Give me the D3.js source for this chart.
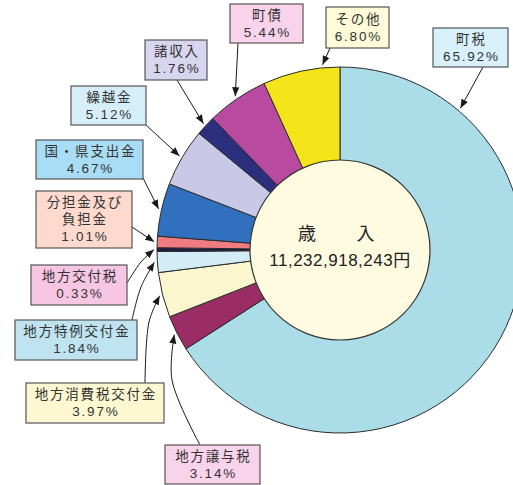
<!DOCTYPE html>
<html>
<head>
<meta charset="utf-8">
<script src="https://cdn.jsdelivr.net/npm/d3@7"></script>
<style>
  html, body { margin: 0; padding: 0; background: #fff; }
  svg { display: block; font-family: "Liberation Sans", "Noto Sans CJK JP", sans-serif; }
</style>
</head>
<body>
<div id="chart-container"></div>
<script>
// revenue breakdown (歳入), percent of total
const categories = ["町税", "地方譲与税", "地方消費税交付金", "地方特例交付金", "地方交付税",
  "分担金及び負担金", "国・県支出金", "繰越金", "諸収入", "町債", "その他"];
const values = [65.92, 3.14, 3.97, 1.84, 0.33, 1.01, 4.67, 5.12, 1.76, 5.44, 6.80];
// label lines as printed in the boxes
const labelLines = [["町税"], ["地方譲与税"], ["地方消費税交付金"], ["地方特例交付金"], ["地方交付税"],
  ["分担金及び", "負担金"], ["国・県支出金"], ["繰越金"], ["諸収入"], ["町債"], ["その他"]];
const centerTitle = "歳　　入";
const centerTotal = "11,232,918,243円";

const sliceColors = ["#abdde9", "#9a2d65", "#faf6cd", "#d3edf6", "#1d1d45",
  "#ee7c80", "#3070bf", "#c9c9e7", "#2b2f7d", "#b84aa0", "#f4e41a"];
const boxColors = ["#d8f0fa", "#f9d3ea", "#fdf8d2", "#bfe3f1", "#f7c6e2",
  "#fddacd", "#a8ddf5", "#d6eefa", "#d8d6ee", "#f9d3ea", "#fdfbd8"];

// label box placement: [x, y, w, h], arrow start, optional bend, where along the slice the arrow points
const labelLayout = [
  { box: [433, 28, 75, 39], from: [483, 67], tip: 0.17 },
  { box: [165, 445, 95, 39], from: [200, 445], via: [172, 380] },
  { box: [26, 383, 138, 40], from: [145, 383], via: [149, 322] },
  { box: [15, 320, 122, 40], from: [132, 320], via: [141, 287] },
  { box: [31, 265, 96, 40], from: [127, 283], via: [141, 262] },
  { box: [36, 191, 96, 57], from: [132, 227] },
  { box: [36, 140, 107, 39], from: [143, 178] },
  { box: [71, 86, 75, 39], from: [146, 125] },
  { box: [145, 40, 62, 40], from: [177, 80] },
  { box: [230, 4, 73, 39], from: [238, 43] },
  { box: [326, 7, 63, 41], from: [330, 48], tip: 0.78 }
];

const width = 513, height = 485;
const cx = 340, cy = 250, outerR = 183, innerR = 90;

const svg = d3.select("#chart-container")
  .append("svg")
    .attr("width", width)
    .attr("height", height);

svg.append("defs").append("marker")
    .attr("id", "arrow")
    .attr("viewBox", "0 0 10 10")
    .attr("refX", 10)
    .attr("refY", 5)
    .attr("markerWidth", 9)
    .attr("markerHeight", 9)
    .attr("markerUnits", "userSpaceOnUse")
    .attr("orient", "auto")
  .append("path")
    .attr("d", "M0,1 L10,5 L0,9 Z")
    .attr("fill", "#1a1a1a");

const data = categories.map((c, i) => ({ name: c, value: values[i], lines: labelLines[i], idx: i }));

const pie = d3.pie().sort(null).value(d => d.value);
const arcs = pie(data);
const arc = d3.arc().innerRadius(0).outerRadius(outerR);

const g = svg.append("g").attr("transform", `translate(${cx},${cy})`);

g.selectAll("path.slice")
  .data(arcs)
  .join("path")
    .attr("class", "slice")
    .attr("d", arc)
    .attr("fill", d => sliceColors[d.index])
    .attr("stroke", "#2a2a2a")
    .attr("stroke-width", 1)
    .attr("stroke-linejoin", "round");

g.append("circle")
  .attr("r", innerR)
  .attr("fill", "#fffbe0")
  .attr("stroke", "#333")
  .attr("stroke-width", 1.2);

g.append("text")
  .attr("x", -3)
  .attr("y", -16)
  .attr("text-anchor", "middle")
  .attr("dominant-baseline", "central")
  .attr("font-size", 18)
  .attr("letter-spacing", 1.5)
  .attr("fill", "#222")
  .text(centerTitle);

g.append("text")
  .attr("y", 10)
  .attr("text-anchor", "middle")
  .attr("dominant-baseline", "central")
  .attr("font-size", 17)
  .attr("letter-spacing", 0.5)
  .attr("fill", "#222")
  .text(centerTotal);

// arrows from boxes to slices
const line = d3.line().curve(d3.curveCatmullRom.alpha(0.5));
arcs.forEach((a, i) => {
  const lay = labelLayout[i];
  const frac = lay.tip === undefined ? 0.5 : lay.tip;
  const ang = a.startAngle + (a.endAngle - a.startAngle) * frac;
  const tr = outerR + 3;
  const tip = [cx + tr * Math.sin(ang), cy - tr * Math.cos(ang)];
  const pts = lay.via ? [lay.from, lay.via, tip] : [lay.from, tip];
  svg.append("path")
    .attr("d", line(pts))
    .attr("fill", "none")
    .attr("stroke", "#1a1a1a")
    .attr("stroke-width", 1)
    .attr("marker-end", "url(#arrow)");
});

// label boxes
const labels = svg.selectAll("g.label")
  .data(data)
  .join("g")
    .attr("class", "label")
    .attr("transform", d => `translate(${labelLayout[d.idx].box[0]},${labelLayout[d.idx].box[1]})`);

labels.append("rect")
  .attr("width", d => labelLayout[d.idx].box[2])
  .attr("height", d => labelLayout[d.idx].box[3])
  .attr("fill", d => boxColors[d.idx])
  .attr("stroke", "#555")
  .attr("stroke-width", 1.2);

labels.each(function (d) {
  const b = labelLayout[d.idx].box;
  const rows = d.lines.concat([d.value.toFixed(2) + "%"]);
  const step = 17;
  const top = b[3] / 2 - step * (rows.length - 1) / 2;
  d3.select(this).selectAll("text")
    .data(rows)
    .join("text")
      .attr("x", b[2] / 2 + 0.9)
      .attr("y", (r, k) => top + k * step)
      .attr("text-anchor", "middle")
      .attr("dominant-baseline", "central")
      .attr("font-size", 13.5)
      .attr("letter-spacing", 1.8)
      .attr("fill", "#333")
      .text(r => r);
});
</script>
</body>
</html>
